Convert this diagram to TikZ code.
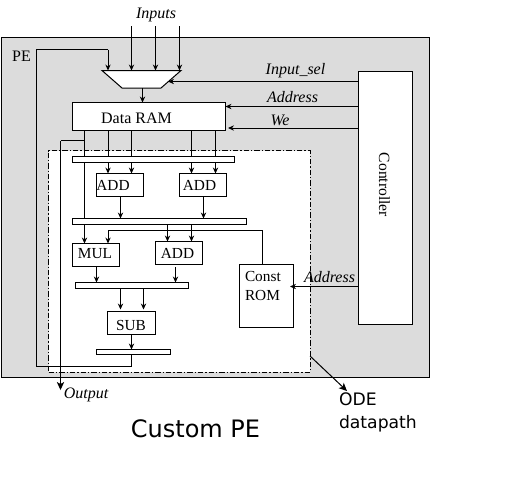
\documentclass[tikz,border=0pt]{standalone}
\usepackage{fontspec}
\setmainfont{Liberation Serif}
\newfontfamily\dejavu{DejaVu Sans}
\usetikzlibrary{arrows.meta,calc}
\definecolor{pegray}{HTML}{DCDCDC}
\newcommand{\bx}[6][box]{%
  \pgfmathsetmacro{\cxx}{(#3+#5)/2}\pgfmathsetmacro{\cyy}{(#4+#6)/2}%
  \pgfmathsetmacro{\wdd}{(#5-#3)*0.75}\pgfmathsetmacro{\htt}{(#6-#4)*0.75}%
  \node[#1,minimum width=\wdd pt,minimum height=\htt pt] (#2) at (\cxx,\cyy) {};}
\tikzset{
  box/.style={draw=black,fill=white,line width=.75pt,inner sep=0pt,outer sep=0pt,rectangle},
  lab/.style={inner sep=0pt,outer sep=0pt,font=\fontsize{11.5pt}{13pt}\selectfont},
  ital/.style={inner sep=0pt,outer sep=0pt,font=\fontsize{12pt}{14pt}\selectfont\itshape},
  wire/.style={draw=black,line width=.75pt},
  arr/.style={wire,-{Stealth[length=4.5pt,width=4pt,inset=1.5pt]}},
  bigarr/.style={wire,-{Stealth[length=6pt,width=5.5pt,inset=1.5pt]}},
  big/.style={inner sep=0pt,outer sep=0pt,font=\dejavu\fontsize{18pt}{22pt}\selectfont},
  odelab/.style={inner sep=0pt,outer sep=0pt,align=left,font=\dejavu\fontsize{12.9pt}{17.6pt}\selectfont},
}
\begin{document}
\begin{tikzpicture}[x=.75pt,y=-.75pt]
\useasboundingbox (0,0) rectangle (513,480);
\fill[white] (0,0) rectangle (513,480);
% PE background
\bx[box,fill=pegray]{pe}{1.5}{37.5}{429.5}{377}
% dashed datapath
\bx[box,dash pattern=on 4pt off 1.5pt on 1pt off 1.5pt,line width=.6pt]{ode}{48.5}{150.5}{310}{372}
% coordinates for wires
\coordinate (loopA) at (36.5,366.5);
\coordinate (loopB) at (36.5,49.5);
\coordinate (loopC) at (108,49.5);
\coordinate (outA) at (60.5,140.5);
\coordinate (outB) at (60.5,390);
\coordinate (romA) at (108,230.5);
\coordinate (romB) at (262.5,230.5);
\coordinate (inA) at (131.5,26);
\coordinate (inB) at (155.5,26);
\coordinate (inC) at (179.5,26);
% mux
\fill[white] (102,70.5) -- (181,70.5) -- (161,88) -- (122,88) -- cycle;
\draw[wire] (102,70.5) -- (181,70.5) -- (161,88) -- (122,88) -- cycle;
\coordinate (muxtop) at (141.5,70.5);
\coordinate (muxbot) at (142.5,88);
\coordinate (muxr) at (168,81.5);
% boxes
\bx{ram}{72.5}{102.5}{225.5}{130}
\bx{barA}{72.5}{156.5}{234.5}{162.5}
\bx{addA}{96.5}{173.5}{143.5}{196.5}
\bx{addB}{179.5}{173.5}{226.5}{196.5}
\bx{barB}{72.5}{218.5}{246.5}{224.5}
\bx{mul}{72.5}{243.5}{119.5}{266.5}
\bx{addC}{155.5}{241.5}{202.5}{264.5}
\bx{barC}{75.5}{282.5}{188.5}{288.5}
\bx{sub}{107.5}{311.5}{155.5}{334.5}
\bx{barD}{96.5}{349.5}{170.5}{354.5}
\bx{rom}{239.5}{264.5}{293.5}{327.5}
\bx{ctrl}{358.5}{71.5}{412.5}{324.5}
% inputs
\draw[arr] (inA) -- (131.5,0 |- muxtop);
\draw[arr] (inB) -- (155.5,0 |- muxtop);
\draw[arr] (inC) -- (179.5,0 |- muxtop);
% feedback loop
\draw[wire] (131.5,0 |- barD.south) -- (131.5,0 |- loopA) -- (loopA) -- (loopB) -- (loopC);
\draw[arr] (loopC) -- (108,0 |- muxtop);
% mux to ram
\draw[arr] (muxbot) -- (142.5,0 |- ram.north);
% control
\draw[arr] (ctrl.west |- muxr) -- (muxr);
\draw[arr] (ctrl.west |- 0,106.5) -- (ram.east |- 0,106.5);
\draw[arr] (ctrl.west |- 0,128) -- (228,128);
\draw[arr] (ctrl.west |- 0,286.5) -- (290,286.5);
% ram to bar A and beyond
\draw[wire] (84.5,0 |- ram.south) -- (84.5,0 |- barA.north);
\draw[wire] (84.5,0 |- barA.south) -- (84.5,0 |- barB.north);
\draw[wire] (108,0 |- ram.south) -- (108,0 |- barA.north);
\draw[wire] (131.5,0 |- ram.south) -- (131.5,0 |- barA.north);
\draw[wire] (191.5,0 |- ram.south) -- (191.5,0 |- barA.north);
\draw[wire] (215.5,0 |- ram.south) -- (215.5,0 |- barA.north);
% output
\draw[wire] (84.5,0 |- outA) -- (outA);
\draw[bigarr] (outA) -- (outB);
% bar A to adders
\draw[arr] (108,0 |- barA.south) -- (108,0 |- addA.north);
\draw[arr] (131.5,0 |- barA.south) -- (131.5,0 |- addA.north);
\draw[arr] (191.5,0 |- barA.south) -- (191.5,0 |- addB.north);
\draw[arr] (215.5,0 |- barA.south) -- (215.5,0 |- addB.north);
% adders to bar B
\draw[arr] (120.5,0 |- addA.south) -- (120.5,0 |- barB.north);
\draw[arr] (203.5,0 |- addB.south) -- (203.5,0 |- barB.north);
% bar B onward
\draw[arr] (84.5,0 |- barB.south) -- (84.5,0 |- mul.north);
\draw[arr] (romA) -- (108,0 |- mul.north);
\draw[wire] (romA) -- (romB) -- (262.5,0 |- rom.north);
\draw[arr] (167.5,0 |- barB.south) -- (167.5,0 |- addC.north);
\draw[arr] (191.5,0 |- barB.south) -- (191.5,0 |- addC.north);
% to bar C
\draw[arr] (96.5,0 |- mul.south) -- (96.5,0 |- barC.north);
\draw[arr] (175.5,267) -- (175.5,0 |- barC.north);
% to SUB
\draw[arr] (120.5,0 |- barC.south) -- (120.5,309.5);
\draw[arr] (143.5,0 |- barC.south) -- (143.5,309.5);
\draw[arr] (131.5,0 |- sub.south) -- (131.5,0 |- barD.north);
% ODE arrow
\coordinate (odeTip) at (347,391);
\draw[bigarr] (310,356) -- (odeTip);
% labels
\node[lab,font=\fontsize{12pt}{14pt}\selectfont] (tPE) at (21.5,56) {PE};
\node[ital] (tIn) at (156,14.5) {Inputs};
\node[lab,font=\fontsize{12pt}{14pt}\selectfont] (tRam) at (136.5,118.5) {Data RAM};
\node[lab] (tAddA) at (113,185) {ADD};
\node[lab] (tAddB) at (199.5,185) {ADD};
\node[lab] (tMul) at (95,254) {MUL};
\node[lab] (tAddC) at (177.5,253) {ADD};
\node[lab] (tSub) at (131,325) {SUB};
\node[lab,align=left,font=\fontsize{11.5pt}{14.3pt}\selectfont,anchor=north west] (tRom) at (245,271) {Const\\ROM};
\node[lab,rotate=-90,font=\fontsize{11.7pt}{14pt}\selectfont] (tCtrl) at (384.5,185) {Controller};
\node[ital] (tSel) at (295.5,71) {Input\_sel};
\node[ital] (tAdr) at (292.5,97.5) {Address};
\node[ital] (tWe) at (280,120.5) {We};
\node[ital] (tAdrB) at (329.5,277.5) {Address};
\node[ital] (tOut) at (86,394.5) {Output};
\node[big] (tCustom) at (195.5,429) {Custom PE};
\node[odelab,anchor=north west] (tOde) at (339,392.5) {ODE\\datapath};
\end{tikzpicture}
\end{document}
